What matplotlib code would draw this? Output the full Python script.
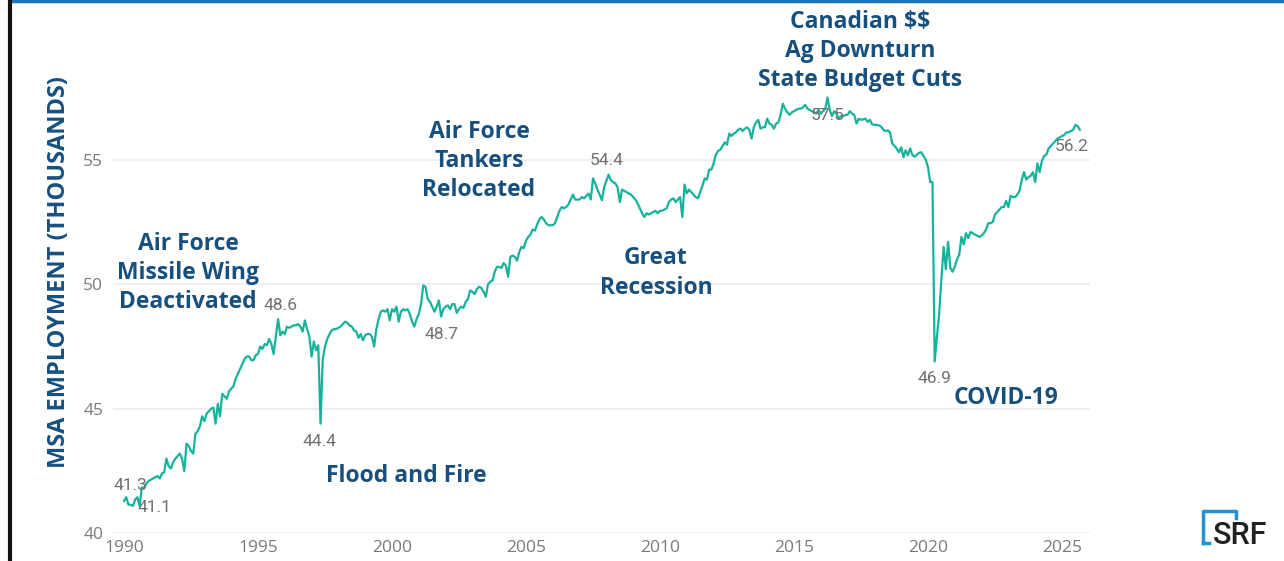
import numpy as np
import matplotlib
matplotlib.use("Agg")
import matplotlib.pyplot as plt
from matplotlib.lines import Line2D

# monthly MSA employment (thousands), Jan 1990 .. Sep 2025
y1990 = [41.3, 41.45, 41.15, 41.15, 41.1, 41.35, 41.45, 41.1, 41.85, 41.8, 42.0, 42.1]
y1991 = [42.15, 42.2, 42.25, 42.3, 42.2, 42.4, 42.45, 43.0, 42.7, 42.6, 42.85, 43.0]
y1992 = [43.1, 43.2, 43.0, 42.5, 43.6, 43.5, 43.3, 43.2, 44.0, 44.1, 44.3, 44.7]
y1993 = [44.5, 44.8, 44.9, 45.0, 45.05, 44.4, 45.2, 44.7, 45.6, 45.5, 45.4, 45.7]
y1994 = [45.8, 45.9, 46.2, 46.4, 46.6, 46.8, 47.0, 47.1, 47.1, 46.95, 46.95, 47.15]
y1995 = [47.2, 47.5, 47.4, 47.6, 47.55, 47.8, 47.6, 47.2, 47.9, 48.6, 47.95, 48.1]
y1996 = [48.0, 48.3, 48.25, 48.3, 48.35, 48.35, 48.4, 48.3, 48.1, 48.55, 48.2, 47.9]
y1997 = [47.1, 47.7, 47.35, 47.55, 44.4, 47.0, 47.5, 47.8, 48.0, 48.15, 48.2, 48.2]
y1998 = [48.25, 48.3, 48.4, 48.5, 48.45, 48.35, 48.3, 48.15, 48.1, 47.85, 48.0, 47.75]
y1999 = [47.95, 48.0, 48.0, 47.9, 47.5, 48.2, 48.6, 48.9, 48.95, 48.9, 49.0, 48.55]
y2000 = [49.0, 48.9, 49.1, 48.5, 48.9, 49.0, 48.95, 49.0, 48.8, 48.5, 48.3, 48.6]
y2001 = [48.8, 49.2, 49.95, 49.9, 49.4, 49.3, 49.1, 48.9, 49.1, 49.35, 48.7, 49.0]
y2002 = [49.1, 49.15, 49.0, 49.2, 49.2, 48.85, 49.0, 49.1, 49.05, 49.3, 49.4, 49.75]
y2003 = [49.7, 49.6, 49.8, 49.9, 49.85, 49.7, 49.5, 50.0, 50.1, 50.15, 50.5, 50.7]
y2004 = [50.7, 50.65, 50.85, 50.75, 50.3, 51.1, 51.15, 51.1, 50.95, 51.3, 51.5, 51.45]
y2005 = [51.75, 51.9, 52.0, 52.2, 52.15, 52.4, 52.6, 52.7, 52.6, 52.45, 52.37, 52.37]
y2006 = [52.37, 52.45, 52.7, 52.95, 53.1, 53.05, 53.1, 53.2, 53.4, 53.6, 53.4, 53.4]
y2007 = [53.4, 53.5, 53.45, 53.55, 53.64, 53.4, 54.25, 54.05, 53.8, 53.6, 53.37, 53.9]
y2008 = [54.15, 54.4, 54.18, 54.1, 54.05, 53.9, 53.3, 53.8, 53.75, 53.7, 53.65, 53.6]
y2009 = [53.5, 53.4, 53.24, 53.05, 52.85, 52.7, 52.85, 52.8, 52.85, 52.9, 52.95, 52.85]
y2010 = [52.95, 52.95, 53.0, 53.05, 53.3, 53.4, 53.45, 53.3, 53.4, 53.5, 52.7, 54.0]
y2011 = [53.65, 53.8, 53.7, 53.6, 53.5, 53.45, 53.7, 53.95, 54.25, 54.2, 54.6, 54.6]
y2012 = [54.85, 55.2, 55.35, 55.4, 55.55, 55.7, 55.6, 56.05, 55.95, 56.05, 56.1, 56.2]
y2013 = [56.25, 56.15, 56.25, 56.3, 56.2, 55.85, 56.3, 56.5, 56.6, 56.25, 56.3, 56.3]
y2014 = [56.65, 56.45, 56.4, 56.25, 56.45, 56.5, 56.8, 57.25, 57.05, 56.9, 56.8, 56.9]
y2015 = [56.95, 57.0, 57.05, 57.05, 57.1, 57.2, 57.05, 57.0, 56.95, 56.9, 56.85, 57.0]
y2016 = [56.85, 56.95, 57.05, 57.5, 57.0, 56.75, 56.95, 56.85, 56.65, 56.75, 56.75, 56.8]
y2017 = [56.8, 56.95, 56.85, 56.8, 56.45, 56.65, 56.6, 56.62, 56.65, 56.52, 56.6, 56.42]
y2018 = [56.4, 56.4, 56.38, 56.33, 56.2, 56.15, 56.18, 56.1, 55.65, 55.55, 55.45, 55.3]
y2019 = [55.5, 55.1, 55.38, 55.18, 55.45, 55.2, 55.12, 55.2, 55.28, 55.3, 55.15, 55.0]
y2020 = [54.7, 54.1, 54.1, 46.9, 47.9, 48.8, 50.2, 51.5, 50.6, 51.7, 50.65, 50.5]
y2021 = [50.7, 51.0, 51.2, 51.9, 51.6, 52.05, 51.85, 52.1, 52.05, 52.0, 51.95, 51.9]
y2022 = [51.95, 52.05, 52.2, 52.45, 52.45, 52.5, 52.8, 52.9, 53.0, 53.1, 53.1, 53.35]
y2023 = [53.1, 53.55, 53.5, 53.5, 53.6, 53.75, 54.2, 54.5, 54.2, 54.3, 54.35, 54.5]
y2024 = [54.1, 54.85, 54.5, 54.95, 55.15, 55.2, 55.45, 55.55, 55.65, 55.75, 55.85, 55.9]
y2025 = [55.95, 56.0, 56.1, 56.1, 56.15, 56.2, 56.4, 56.35, 56.2]

years = [y1990, y1991, y1992, y1993, y1994, y1995, y1996, y1997, y1998, y1999,
         y2000, y2001, y2002, y2003, y2004, y2005, y2006, y2007, y2008, y2009,
         y2010, y2011, y2012, y2013, y2014, y2015, y2016, y2017, y2018, y2019,
         y2020, y2021, y2022, y2023, y2024, y2025]

# months that carry a value label
label_idx = [0, 7, 69, 88, 142, 217, 315, 363, 428]

events = ["Air Force\nMissile Wing\nDeactivated", "Flood and Fire",
          "Air Force\nTankers\nRelocated", "Great\nRecession",
          "Canadian $$\nAg Downturn\nState Budget Cuts", "COVID-19"]

emp = np.concatenate([np.array(y) for y in years])
t = 1990 + np.arange(len(emp)) / 12.0

W, H = 1284, 561
fig = plt.figure(figsize=(W / 100, H / 100), dpi=100)

def px(x, y):
    return x / W, 1 - y / H

ax = fig.add_axes([113 / W, 1 - 533.3 / H, (1090 - 113) / W, (533.3 - 85) / H])
ax.plot(t, emp, color="#17b29b", lw=1.6, solid_joinstyle="round", zorder=3)
ax.set_xlim(1989.59, 2026.045)
ax.set_ylim(40, 58)
ax.set_yticks([40, 45, 50, 55])
ax.set_xticks([1990, 1995, 2000, 2005, 2010, 2015, 2020, 2025])
ax.grid(axis="y", color="#ebebeb", lw=1.2)
ax.set_axisbelow(True)
for s in ax.spines.values():
    s.set_visible(False)
ax.tick_params(length=0, colors="#7a7a7a", labelsize=12.5)
ax.tick_params(axis="x", pad=5)
ax.tick_params(axis="y", pad=7)
for lab in ax.get_xticklabels() + ax.get_yticklabels():
    lab.set_fontfamily("Open Sans")

# value labels
offsets = [(6, 15), (15, -2), (2, 14), (-1, -18), (0, -18), (-2, 14), (0, -18), (0, -17), (-8, -17)]
for i, (dx, dy) in zip(label_idx, offsets):
    ax.annotate(f"{emp[i]:.1f}", (t[i], emp[i]), xytext=(dx, dy), textcoords="offset pixels",
                ha="center", va="center", color="#707070", fontsize=12.5,
                family="Roboto", annotation_clip=False, zorder=4)

# event annotations
blue = "#17507f"
ev_pos = [(188, 273), (406, 476), (479, 161), (656, 273), (860, 51), (1006, 398)]
for txt, (x, y) in zip(events, ev_pos):
    fig.text(*px(x, y), txt, ha="center", va="center", color=blue, fontsize=16.5,
             fontweight="bold", family="Open Sans", linespacing=1.3, parse_math=False)

fig.text(*px(59, 272), "MSA EMPLOYMENT (THOUSANDS)", rotation=90, ha="center", va="center",
         color=blue, fontsize=17, fontweight="bold", family="Open Sans")

# slide frame
fig.add_artist(Line2D([10 / W, 1], [1 - 1 / H, 1 - 1 / H], color="#1b75bb", lw=2.5))
fig.add_artist(Line2D([10 / W, 10 / W], [0, 1], color="#111111", lw=3))

# logo
lb = "#1f93d8"
fig.add_artist(Line2D([1203 / W, 1203 / W, 1236 / W, 1236 / W],
                      [1 - 543 / H, 1 - 511 / H, 1 - 511 / H, 1 - 518 / H], color=lb, lw=2.5))
fig.add_artist(Line2D([1203 / W, 1209 / W], [1 - 543 / H, 1 - 543 / H], color=lb, lw=2.5))
fig.text(*px(1240, 535), "SRF", ha="center", va="center", color="#222222", fontsize=22,
         family="Roboto", fontweight="medium")

fig.savefig("out.png", dpi=100, facecolor="white")
